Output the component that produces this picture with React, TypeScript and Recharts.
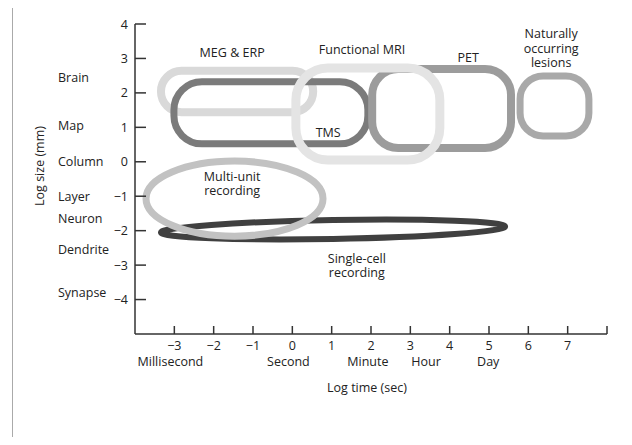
import React from 'react';
import { ComposedChart, XAxis, YAxis, ReferenceArea, Scatter, Label } from 'recharts';

// ---- data ----
const methods = [
  'MEG & ERP',
  'TMS',
  'PET',
  'Naturally occurring lesions',
  'Functional MRI',
  'Single-cell recording',
  'Multi-unit recording',
];
const timeMin = [-3.34, -3.01, 2.03, 5.79, 0.09, -3.34, -3.72];
const timeMax = [0.53, 1.92, 5.56, 7.54, 3.75, 5.41, 0.78];
const sizeMin = [1.44, 0.52, 0.4, 0.75, 0.05, -2.24, -2.16];
const sizeMax = [2.64, 2.32, 2.69, 2.49, 2.72, -1.69, 0.02];

const labelLines = [
  ['MEG & ERP'],
  ['TMS'],
  ['PET'],
  ['Naturally', 'occurring', 'lesions'],
  ['Functional MRI'],
  ['Single-cell', 'recording'],
  ['Multi-unit', 'recording'],
];
const labelTime = [-1.53, 0.91, 4.47, 6.58, 1.77, 1.64, -1.53];
const labelSize = [3.16, 0.84, 3.04, 3.3, 3.25, -3.01, -0.63];

const timeTicks = [-3, -2, -1, 0, 1, 2, 3, 4, 5, 6, 7, 8];
const timeTickLabels = ['−3', '−2', '−1', '0', '1', '2', '3', '4', '5', '6', '7', ''];
const sizeTicks = [4, 3, 2, 1, 0, -1, -2, -3, -4];
const sizeTickLabels = ['4', '3', '2', '1', '0', '−1', '−2', '−3', '−4'];
const anatomyNames = ['Brain', 'Map', 'Column', 'Layer', 'Neuron', 'Dendrite', 'Synapse'];
const anatomySize = [2.45, 1.05, 0, -1, -1.65, -2.55, -3.8];
const timeUnitNames = ['Millisecond', 'Second', 'Minute', 'Hour', 'Day'];
const timeUnitLog = [-3.1, -0.1, 1.92, 3.4, 4.98];

// ---- styles ----
const FONT = '"Open Sans", "Noto Sans", sans-serif';
const TEXT = '#222';
const AXIS = '#333';
const methodStyle: Record<string, { stroke: string; w: number; kind: 'round' | 'ellipse'; r?: number; rot?: number }> = {
  'MEG & ERP': { stroke: '#d9d9d9', w: 8, kind: 'round', r: 21 },
  TMS: { stroke: '#7b7b7b', w: 7, kind: 'round', r: 28 },
  PET: { stroke: '#9c9c9c', w: 8, kind: 'round', r: 26 },
  'Naturally occurring lesions': { stroke: '#a9a9a9', w: 7, kind: 'round', r: 23 },
  'Functional MRI': { stroke: '#e4e4e4', w: 9, kind: 'round', r: 32 },
  'Single-cell recording': { stroke: '#404040', w: 6, kind: 'ellipse', rot: -1 },
  'Multi-unit recording': { stroke: '#c2c2c2', w: 7, kind: 'ellipse' },
};

const labelData = labelTime.map((t, i) => ({ t, s: labelSize[i], lines: labelLines[i] }));

const makeShape = (name: string) => (p: any) => {
  const st = methodStyle[name];
  const { x, y, width, height } = p;
  if (st.kind === 'ellipse') {
    const cx = x + width / 2;
    const cy = y + height / 2;
    return (
      <ellipse
        cx={cx}
        cy={cy}
        rx={width / 2}
        ry={height / 2}
        fill="none"
        stroke={st.stroke}
        strokeWidth={st.w}
        transform={st.rot ? `rotate(${st.rot} ${cx} ${cy})` : undefined}
      />
    );
  }
  const r = Math.min(st.r || 0, width / 2, height / 2);
  return <rect x={x} y={y} width={width} height={height} rx={r} ry={r} fill="none" stroke={st.stroke} strokeWidth={st.w} />;
};

const SizeTick = (p: any) => {
  const { x, y, index } = p;
  return (
    <g>
      <line x1={x + 7} x2={x + 18} y1={y} y2={y} stroke={AXIS} strokeWidth={1.5} />
      <text x={x} y={y} textAnchor="end" dominantBaseline="central" fontFamily={FONT} fontSize={12.5} fill={TEXT}>
        {sizeTickLabels[index]}
      </text>
    </g>
  );
};

const AnatomyTick = (p: any) => {
  const { x, y, index } = p;
  return (
    <text x={x} y={y} textAnchor="start" dominantBaseline="central" fontFamily={FONT} fontSize={12.5} fill={TEXT}>
      {anatomyNames[index]}
    </text>
  );
};

const TimeTick = (p: any) => {
  const { x, y, index } = p;
  return (
    <g>
      <line x1={x} x2={x} y1={y} y2={y - 8} stroke={AXIS} strokeWidth={1.5} />
      <text x={x} y={y + 11} textAnchor="middle" dominantBaseline="central" fontFamily={FONT} fontSize={12.5} fill={TEXT}>
        {timeTickLabels[index]}
      </text>
    </g>
  );
};

const unitName = (v: number) => {
  const i = timeUnitLog.indexOf(v);
  return i >= 0 ? timeUnitNames[i] : '';
};

const MethodLabel = (p: any) => {
  const { cx, cy, payload } = p;
  const lines: string[] = payload.lines;
  const lh = 14.5;
  const start = cy - ((lines.length - 1) * lh) / 2;
  return (
    <text textAnchor="middle" fontFamily={FONT} fontSize={12.5} fill={TEXT}>
      {lines.map((l, i) => (
        <tspan key={i} x={cx} y={start + i * lh} dominantBaseline="central">
          {l}
        </tspan>
      ))}
    </text>
  );
};

export default function App() {
  return (
    <div style={{ position: 'relative', width: 632, height: 445, margin: -8, background: '#fff', overflow: 'hidden' }}>
      <div
        style={{
          position: 'absolute',
          left: 12,
          top: 5,
          width: 617,
          height: 470,
          border: '1px solid #aaa',
          boxSizing: 'border-box',
        }}
      />
      <div style={{ position: 'absolute', left: 0, top: 0 }}>
        <ComposedChart width={632} height={445} margin={{ top: 24, right: 25, left: 15, bottom: 51 }} style={{ fontFamily: FONT }}>
          <XAxis
            xAxisId="a_time"
            type="number"
            dataKey="t"
            domain={[-4, 8]}
            ticks={timeTicks}
            interval={0}
            height={20}
            tickSize={0}
            tickMargin={0}
            tick={<TimeTick />}
            axisLine={{ stroke: AXIS, strokeWidth: 1.5 }}
            allowDataOverflow
          />
          <XAxis
            xAxisId="b_unit"
            type="number"
            dataKey="t"
            domain={[-4, 8]}
            ticks={timeUnitLog}
            interval={0}
            height={40}
            tickSize={0}
            tickMargin={3}
            tickFormatter={unitName}
            tick={{ fontFamily: FONT, fontSize: 12.5, fill: TEXT }}
            axisLine={false}
            tickLine={false}
            allowDataOverflow
          >
            <Label value="Log time (sec)" position="center" dx={-4} dy={14} fontFamily={FONT} fontSize={12.5} fill={TEXT} />
          </XAxis>
          <YAxis
            yAxisId="a_size"
            type="number"
            dataKey="s"
            domain={[-5, 4]}
            ticks={sizeTicks}
            interval={0}
            width={60}
            tickSize={0}
            tickMargin={7}
            tick={<SizeTick />}
            axisLine={{ stroke: AXIS, strokeWidth: 1.5 }}
            allowDataOverflow
          />
          <YAxis
            yAxisId="b_anat"
            type="number"
            domain={[-5, 4]}
            ticks={anatomySize}
            interval={0}
            width={60}
            tickSize={0}
            tickMargin={17}
            tick={<AnatomyTick />}
            axisLine={false}
            tickLine={false}
            allowDataOverflow
          >
            <Label value="Log size (mm)" angle={-90} position="center" dx={-5} dy={-13} fontFamily={FONT} fontSize={12.5} fill={TEXT} />
          </YAxis>
          {methods.map((m, i) => (
            <ReferenceArea
              key={m}
              xAxisId="a_time"
              yAxisId="a_size"
              x1={timeMin[i]}
              x2={timeMax[i]}
              y1={sizeMin[i]}
              y2={sizeMax[i]}
              ifOverflow="visible"
              shape={makeShape(m)}
            />
          ))}
          <Scatter
            xAxisId="a_time"
            yAxisId="a_size"
            data={labelData}
            dataKey="s"
            isAnimationActive={false}
            shape={<MethodLabel />}
          />
        </ComposedChart>
      </div>
    </div>
  );
}
